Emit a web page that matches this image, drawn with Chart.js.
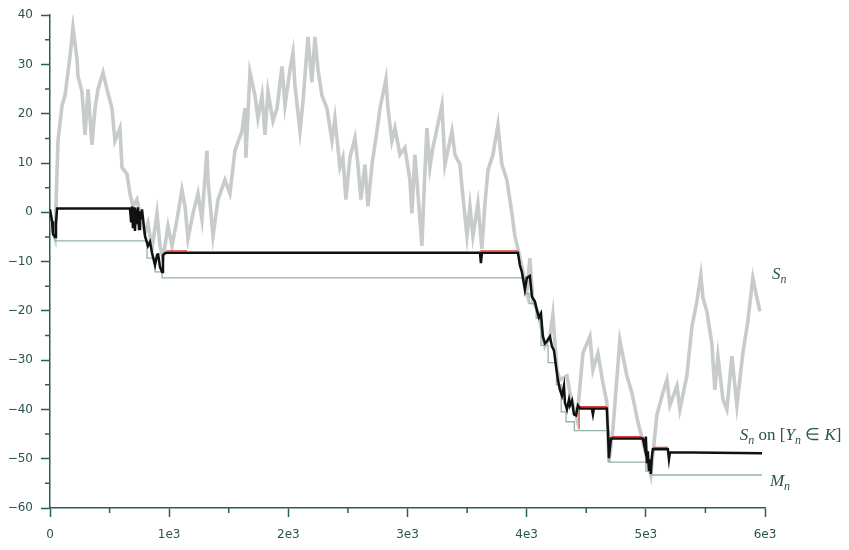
<!DOCTYPE html>
<html>
<head>
<meta charset="utf-8">
<script src="https://cdn.jsdelivr.net/npm/chart.js@4"></script>
<style>
  html, body { margin: 0; padding: 0; background: #fff; }
</style>
</head>
<body>
<canvas id="walk" width="849" height="550"></canvas>
<script>
// random walk S_n
const walkX = [0,25,42,67,101,126,168,193,227,235,268,294,319,352,378,403,445,478,520,545,
  587,604,646,671,696,730,755,797,822,856,898,923,948,990,1024,1066,1107,1133,1158,1200,
  1242,1275,1317,1326,1368,1410,1468,1510,1552,1611,1636,1644,1678,1720,1745,1779,1804,1829,1871,1905,
  1947,1972,2014,2039,2056,2098,2123,2165,2198,2223,2249,2282,2324,2366,2391,2433,2458,2483,2517,2559,
  2584,2609,2643,2668,2702,2744,2769,2819,2836,2869,2895,2937,2978,3020,3037,3062,3079,3121,3138,3163,
  3188,3213,3289,3314,3373,3398,3440,3465,3499,3524,3549,3591,3624,3650,3675,3717,3759,3792,3834,3876,
  3901,3927,3969,4002,4027,4052,4094,4128,4153,4195,4220,4254,4279,4338,4363,4422,4472,4531,4556,4598,
  4640,4673,4690,4724,4782,4841,4883,4933,4975,5042,5093,5143,5177,5202,5261,5286,5344,5386,5428,5462,
  5479,5512,5554,5579,5605,5647,5680,5722,5764,5814,5856,5898,5932,5957];
const walkY = [0,-3.8,-5.2,14.5,21.7,23.7,31.6,37.6,31.0,27.6,24.5,15.7,25.0,13.7,21.1,25.0,28.4,25.0,21.1,14.5,
  17.1,9.1,7.8,3.8,1.2,2.6,-0.2,-4.2,-2.2,-7.4,-0.2,-6.8,-9.3,-2.8,-6.8,-1.4,4.6,1.2,-5.4,-0.2,
  3.8,-1.4,12.5,6.6,-4.8,2.6,6.6,3.8,12.5,16.5,21.1,11.1,28.4,23.7,19.1,23.7,15.7,24.5,18.5,21.1,
  29.6,21.7,29.0,32.4,25.6,16.5,22.5,35.6,26.4,35.6,29.0,23.7,21.1,14.5,19.1,9.1,11.1,2.6,11.1,15.1,
  9.7,2.6,9.7,1.2,9.7,16.5,21.1,27.0,21.1,14.5,17.1,11.7,13.1,6.6,-0.2,11.7,6.6,-6.8,3.8,17.1,
  9.1,13.1,21.7,9.7,16.5,11.7,9.7,3.2,-4.8,1.2,-4.8,1.8,-7.4,1.8,8.5,11.7,17.7,9.7,6.6,-0.2,
  -4.8,-7.4,-12.1,-16.1,-9.3,-18.1,-20.1,-24.1,-27.2,-25.2,-20.7,-32.0,-34.0,-33.2,-36.6,-42.0,-28.6,-25.2,-32.0,-28.6,
  -34.6,-38.6,-50.7,-44.0,-26.0,-33.2,-36.6,-42.5,-46.5,-53.3,-41.1,-36.6,-34.0,-39.2,-35.2,-40.0,-33.2,-23.3,-18.1,-12.7,
  -17.3,-20.1,-26.6,-36.0,-29.2,-38.0,-40.0,-29.2,-39.2,-28.6,-22.1,-13.3,-17.3,-20.1];

// S_n on [Y_n in K]
const kX = [0,17,25,42,50,59,671,680,688,696,705,713,722,730,738,747,755,764,772,797,
  822,839,856,881,898,906,923,940,948,965,982,3608,3616,3625,3927,3943,3960,3985,4002,4027,
  4044,4069,4086,4103,4120,4136,4153,4170,4195,4212,4229,4245,4262,4279,4296,4313,4321,4338,4355,4363,
  4380,4397,4414,4430,4447,4547,4556,4564,4673,4682,4690,4707,4975,4992,5000,5009,5017,5026,5034,5042,
  5051,5059,5185,5194,5202,5975];
const kY = [0.6,-1.8,-4.4,-5.0,-2.4,0.8,0.8,-1.8,1.2,-3.2,1.0,-3.8,0.6,-2.4,1.0,-3.4,0.2,-1.2,0.6,-4.8,
  -6.8,-6.0,-8.2,-10.7,-8.7,-8.3,-11.1,-12.1,-8.7,-8.3,-8.2,-8.2,-10.3,-8.2,-8.2,-10.7,-12.1,-15.7,-13.3,-12.9,
  -17.1,-18.1,-19.9,-21.3,-20.5,-25.2,-26.6,-26.2,-25.2,-27.2,-28.0,-31.0,-34.0,-36.0,-37.2,-35.2,-38.6,-40.0,-38.0,-39.2,
  -38.2,-41.0,-41.2,-39.2,-39.8,-39.8,-41.0,-39.8,-39.8,-44.5,-49.9,-45.9,-45.9,-47.9,-45.5,-50.9,-48.5,-52.5,-50.1,-53.1,
  -49.5,-48.1,-48.1,-50.1,-48.7,-48.9];

// running minimum M_n
const mX = [0,25,42,814,814,881,881,940,940,3985,3985,4020,4020,4080,4080,4120,4120,4180,4180,4250,
  4250,4290,4290,4330,4330,4400,4400,4690,4690,5000,5000,5042,5042,5975];
const mY = [0,-3.8,-5.8,-5.8,-9.3,-9.3,-12.1,-12.1,-13.3,-13.3,-16.5,-16.5,-18.5,-18.5,-21.5,-21.5,-27,-27,-30.5,-30.5,
  -35,-35,-40.5,-40.5,-42.5,-42.5,-44.3,-44.3,-50.7,-50.7,-52.5,-52.5,-53.3,-53.3];

// thin red trace peeking out above the flats
const rX = [975,1150,1150,3610,3927,3927,4440,4440,4673,4673,4715,4965,4965,5060,5185];
const rY = [-7.8,-7.8,null,-7.8,-7.8,null,-44.0,-39.4,-39.4,null,-45.5,-45.5,null,-47.7,-47.7];

const AXIS = '#24605c';
const TEXT = '#2a5450';

function pts(xs, ys) {
  return xs.map((x, i) => ({x: x, y: ys[i]}));
}

// curve labels, anchored in data units
const curveLabels = [
  {parts: [['S', 1, 0], ['n', 1, 1]], x: 6058, y: -13.5},
  {parts: [['S', 1, 0], ['n', 1, 1], [' on [', 0, 0], ['Y', 1, 0], ['n', 1, 1], [' \u2208 ', 0, 0], ['K', 1, 0], [']', 0, 0]], x: 5789, y: -46.2},
  {parts: [['M', 1, 0], ['n', 1, 1]], x: 6041, y: -55.5}
];

function drawRich(ctx, parts, x, y, size) {
  parts.forEach(function(p) {
    const sub = p[2] === 1;
    const fs = sub ? Math.round(size * 0.7) : size;
    ctx.font = (p[1] ? 'italic ' : '') + fs + 'px "Liberation Serif", serif';
    ctx.fillText(p[0], x, sub ? y + size * 0.22 : y);
    x += ctx.measureText(p[0]).width;
  });
}

const extras = {
  id: 'extras',
  afterDraw(chart) {
    const ctx = chart.ctx;
    const xs = chart.scales.x, ys = chart.scales.y, a = chart.chartArea;
    ctx.save();
    // short minor ticks
    ctx.strokeStyle = AXIS;
    ctx.lineWidth = 1.5;
    ctx.beginPath();
    xs.ticks.forEach(function(t) {
      if (t.value % 1000 !== 0) {
        const px = xs.getPixelForValue(t.value);
        ctx.moveTo(px, a.bottom);
        ctx.lineTo(px, a.bottom + 5);
      }
    });
    ys.ticks.forEach(function(t) {
      if (t.value % 10 !== 0) {
        const py = ys.getPixelForValue(t.value);
        ctx.moveTo(a.left, py);
        ctx.lineTo(a.left - 5, py);
      }
    });
    ctx.stroke();
    // curve labels
    ctx.fillStyle = TEXT;
    ctx.textBaseline = 'alphabetic';
    curveLabels.forEach(function(l) {
      drawRich(ctx, l.parts, xs.getPixelForValue(l.x), ys.getPixelForValue(l.y), 17);
    });
    ctx.restore();
  }
};

new Chart(document.getElementById('walk'), {
  type: 'line',
  data: {
    datasets: [
      {label: 'S_n on [Y_n in K]', data: pts(kX, kY), borderColor: '#111', borderWidth: 2.5, order: 0},
      {label: 'red', data: pts(rX, rY), borderColor: '#e0403a', borderWidth: 1.2, order: 1, spanGaps: false},
      {label: 'M_n', data: pts(mX, mY), borderColor: '#93b2af', borderWidth: 1.3, order: 2},
      {label: 'S_n', data: pts(walkX, walkY), borderColor: '#c8cbcb', borderWidth: 3.6, order: 3}
    ]
  },
  options: {
    responsive: false,
    animation: false,
    elements: {
      point: {radius: 0},
      line: {tension: 0, borderJoinStyle: 'miter', fill: false}
    },
    layout: {padding: {left: 0, right: 84, top: 5, bottom: 0}},
    plugins: {
      legend: {display: false},
      tooltip: {enabled: false}
    },
    scales: {
      x: {
        type: 'linear',
        min: 0,
        max: 6000,
        afterFit: function(s) { s.height = 42; },
        border: {color: AXIS, width: 1.5},
        grid: {
          drawOnChartArea: false,
          tickLength: 9,
          tickWidth: 1.5,
          tickColor: function(c) {
            return c.tick && c.tick.value % 1000 === 0 ? AXIS : 'rgba(0,0,0,0)';
          }
        },
        ticks: {
          stepSize: 500,
          autoSkip: false,
          maxRotation: 0,
          padding: 11,
          color: TEXT,
          font: {family: 'DejaVu Sans', size: 12},
          callback: function(v) {
            if (v % 1000 !== 0) return '';
            return v === 0 ? '0' : (v / 1000) + 'e3';
          }
        }
      },
      y: {
        min: -60,
        max: 40,
        afterFit: function(s) { s.width = 50; },
        border: {color: AXIS, width: 1.5},
        grid: {
          drawOnChartArea: false,
          tickLength: 9,
          tickWidth: 1.5,
          tickColor: function(c) {
            return c.tick && c.tick.value % 10 === 0 ? AXIS : 'rgba(0,0,0,0)';
          }
        },
        ticks: {
          stepSize: 5,
          autoSkip: false,
          padding: 8,
          color: TEXT,
          font: {family: 'DejaVu Sans', size: 12},
          callback: function(v) {
            if (v % 10 !== 0) return '';
            return v < 0 ? '\u2212' + (-v) : String(v);
          }
        }
      }
    }
  },
  plugins: [extras]
});
</script>
</body>
</html>
